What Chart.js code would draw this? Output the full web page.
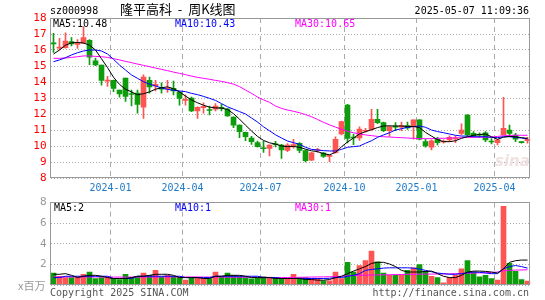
<!DOCTYPE html>
<html>
<head>
<meta charset="utf-8">
<script src="https://cdn.jsdelivr.net/npm/chart.js@4/dist/chart.umd.min.js"></script>
<style>
body { margin: 0; background: #fff; width: 545px; height: 300px; overflow: hidden; position: relative; font-family: "DejaVu Sans Mono", monospace; }
canvas { position: absolute; left: 0; }
#main { top: 0; }
#vol { top: 192px; }
.t { position: absolute; white-space: nowrap; font-size: 10px; line-height: 10px; }
</style>
</head>
<body>
<canvas id="main" width="545" height="192" style="width:545px;height:192px"></canvas>
<canvas id="vol" width="545" height="108" style="width:545px;height:108px"></canvas>

<div class="t" style="left:50px;top:6px">sz000998</div>
<div class="t" style="left:120px;top:2px;font-family:'Noto Sans CJK SC';font-size:13px;line-height:13px;white-space:pre">隆平高科  -  周K线图</div>
<div class="t" style="right:16px;top:6px">2025-05-07 11:09:36</div>
<div class="t" style="left:53px;top:19px;color:#000">MA5:10.48</div>
<div class="t" style="left:175px;top:19px;color:#0000ff">MA10:10.43</div>
<div class="t" style="left:295px;top:19px;color:#ff00ff">MA30:10.65</div>
<div class="t" style="left:495px;top:152px;font:italic bold 15px 'DejaVu Sans';color:#f0e2e2">sina</div>
<div class="t" style="left:54px;top:203px;color:#000">MA5:2</div>
<div class="t" style="left:175px;top:203px;color:#0000ff">MA10:1</div>
<div class="t" style="left:295px;top:203px;color:#ff00ff">MA30:1</div>
<div class="t" style="left:18px;top:280px;color:#999;font-family:'Noto Sans CJK SC';font-size:11px;line-height:11px">x百万</div>
<div class="t" style="left:50px;top:288px;color:#555">Copyright 2025 SINA.COM</div>
<div class="t" style="right:16px;top:288px;color:#555">http://finance.sina.com.cn</div>

<script>
// weekly k-line, 000998
const weeks = ['2023-10-27','2023-11-03','2023-11-10','2023-11-17','2023-11-24','2023-12-01','2023-12-08','2023-12-15','2023-12-22','2023-12-29',
  '2024-01-05','2024-01-12','2024-01-19','2024-01-26','2024-02-02','2024-02-08','2024-02-23','2024-03-01','2024-03-08','2024-03-15',
  '2024-03-22','2024-03-29','2024-04-03','2024-04-12','2024-04-19','2024-04-26','2024-04-30','2024-05-10','2024-05-17','2024-05-24',
  '2024-05-31','2024-06-07','2024-06-14','2024-06-21','2024-06-28','2024-07-05','2024-07-12','2024-07-19','2024-07-26','2024-08-02',
  '2024-08-09','2024-08-16','2024-08-23','2024-08-30','2024-09-06','2024-09-13','2024-09-20','2024-09-27','2024-09-30','2024-10-11',
  '2024-10-18','2024-10-25','2024-11-01','2024-11-08','2024-11-15','2024-11-22','2024-11-29','2024-12-06','2024-12-13','2024-12-20',
  '2024-12-27','2025-01-03','2025-01-10','2025-01-17','2025-01-24','2025-01-27','2025-02-07','2025-02-14','2025-02-21','2025-02-28',
  '2025-03-07','2025-03-14','2025-03-21','2025-03-28','2025-04-03','2025-04-11','2025-04-18','2025-04-25','2025-04-30','2025-05-07'];

const open = [16.42,16.12,16.15,16.52,16.35,16.42,16.6,15.33,15.05,14.05,
  14.1,13.5,14.25,13.28,13.3,12.42,14.1,13.75,13.65,13.55,
  13.6,13.35,12.85,13.0,12.2,12.4,12.28,12.3,12.42,12.3,
  11.8,11.3,10.85,10.5,10.22,9.88,9.85,10.12,10.05,9.72,
  10.02,10.17,9.72,9.12,9.72,9.55,9.35,9.58,10.75,12.55,
  10.55,10.5,10.92,11.04,11.67,11.46,10.96,11.22,11.17,11.27,
  11.21,11.63,10.27,9.92,10.42,10.25,10.38,10.44,10.79,11.94,
  10.79,10.71,10.83,10.29,10.21,10.69,11.0,10.69,10.25,10.33];
const high = [17.04,16.73,17.07,16.77,16.65,17.47,16.65,15.5,15.05,14.35,
  14.12,13.5,14.25,13.5,13.5,14.45,14.3,14.1,13.95,14.1,
  14.05,13.4,13.2,13.05,12.45,12.7,12.5,12.65,12.6,12.35,
  11.82,11.32,10.87,10.6,10.3,10.3,10.08,10.29,10.1,10.15,
  10.42,10.22,9.75,9.6,9.85,9.6,9.45,10.58,11.55,12.6,
  10.75,11.2,11.1,12.29,12.29,11.5,11.25,11.46,11.5,11.5,
  11.63,11.65,10.42,10.38,10.54,10.38,10.63,10.63,11.38,11.96,
  10.9,10.83,10.9,10.46,10.42,13.04,11.31,10.79,10.29,10.54];
const low = [15.85,16.0,16.12,16.25,16.1,16.4,15.08,15.02,13.8,13.73,
  13.4,13.05,12.78,12.5,12.05,11.73,13.3,13.45,13.3,13.35,
  13.2,12.55,12.55,12.15,11.72,12.05,11.95,12.2,12.2,11.85,
  11.15,10.52,10.33,10.1,9.92,9.6,9.38,9.94,9.23,9.65,
  9.86,9.58,9.0,9.08,9.6,9.28,9.02,9.55,10.7,10.2,
  10.08,10.35,10.85,10.98,11.4,10.9,10.6,10.96,10.96,11.04,
  10.42,10.38,9.92,9.75,10.06,10.17,10.27,10.21,10.69,10.63,
  10.58,10.54,10.27,10.13,10.06,10.69,10.58,10.27,10.17,10.17];
const close = [16.38,16.17,16.55,16.38,16.39,16.78,15.55,15.07,14.1,14.1,
  13.6,13.25,13.1,13.22,12.6,14.3,13.7,13.85,13.55,13.62,
  13.45,12.98,12.9,12.2,12.42,12.48,12.22,12.5,12.35,11.88,
  11.3,10.9,10.58,10.27,9.96,9.83,10.05,10.08,9.75,10.05,
  10.08,9.72,9.08,9.58,9.78,9.35,9.4,10.42,11.52,10.48,
  10.5,11.05,10.98,11.67,11.46,10.96,11.2,11.18,11.27,11.13,
  11.63,10.42,10.0,10.33,10.21,10.29,10.54,10.5,11.0,10.69,
  10.63,10.67,10.38,10.25,10.38,11.1,10.79,10.42,10.21,10.42];

const ma5 = [15.75,16.0,16.3,16.45,16.47,16.44,16.3,16.0,15.45,14.9,
  14.3,13.85,13.55,13.38,13.2,13.27,13.38,13.55,13.64,13.7,
  13.58,13.38,13.12,12.88,12.7,12.55,12.43,12.38,12.37,12.28,
  12.02,11.68,11.3,10.94,10.6,10.35,10.2,10.12,10.0,9.96,
  9.97,9.92,9.8,9.7,9.65,9.52,9.45,9.6,9.95,10.25,
  10.5,10.75,10.9,11.02,11.15,11.25,11.26,11.25,11.25,11.22,
  11.22,11.15,10.85,10.62,10.4,10.27,10.27,10.33,10.48,10.58,
  10.67,10.72,10.75,10.58,10.42,10.55,10.6,10.58,10.52,10.48];
const ma10 = [15.27,15.38,15.52,15.69,15.83,15.94,16.0,16.0,15.94,15.75,
  15.42,15.06,14.75,14.44,14.23,14.02,13.87,13.75,13.63,13.54,
  13.48,13.44,13.4,13.29,13.21,13.1,12.98,12.85,12.65,12.45,
  12.3,12.15,12.0,11.75,11.5,11.2,10.95,10.7,10.5,10.31,
  10.21,10.1,9.92,9.79,9.75,9.71,9.69,9.69,9.79,9.92,
  9.96,10.0,10.17,10.33,10.54,10.69,10.83,11.0,11.08,11.17,
  11.21,11.25,11.17,11.0,10.9,10.83,10.75,10.67,10.62,10.62,
  10.58,10.58,10.58,10.54,10.52,10.58,10.58,10.54,10.5,10.45];
const ma30 = [15.48,15.48,15.5,15.54,15.58,15.63,15.63,15.6,15.58,15.54,
  15.46,15.38,15.29,15.21,15.12,15.04,14.96,14.87,14.79,14.71,
  14.62,14.54,14.46,14.37,14.29,14.23,14.17,14.1,14.04,13.96,
  13.87,13.71,13.5,13.29,13.06,12.88,12.73,12.5,12.35,12.25,
  12.17,12.08,11.96,11.83,11.66,11.48,11.32,11.18,11.04,10.92,
  10.83,10.75,10.69,10.65,10.6,10.58,10.56,10.54,10.52,10.5,
  10.48,10.46,10.46,10.46,10.48,10.48,10.5,10.51,10.52,10.54,
  10.54,10.55,10.55,10.56,10.6,10.64,10.66,10.67,10.67,10.67];

// volume, x百万
const vol = [1.16,0.85,0.72,0.72,0.72,1.04,1.26,0.63,0.72,0.72,
  0.63,0.53,1.04,0.72,0.85,1.16,0.94,1.42,0.79,0.94,
  0.85,0.72,0.47,0.72,0.72,0.63,0.63,1.26,0.85,1.16,
  0.94,0.85,0.72,0.6,0.72,0.79,0.72,0.72,0.63,0.63,
  1.04,0.72,0.72,0.63,0.63,0.41,0.41,1.26,0.63,2.2,
  1.26,1.89,2.36,3.3,2.26,1.16,0.94,0.94,0.94,1.42,
  1.67,1.98,1.32,0.85,0.72,0.22,0.72,0.94,1.57,2.36,
  1.26,0.79,0.94,0.63,0.47,7.64,2.1,1.32,0.53,0.38];
const vma5 = [1.04,1.04,1.1,0.94,0.72,0.85,0.94,0.94,0.85,0.72,
  0.63,0.63,0.63,0.72,0.85,0.85,0.94,1.04,1.04,1.04,
  0.94,0.72,0.72,0.72,0.72,0.63,0.63,0.85,0.85,0.94,
  0.94,0.94,0.85,0.72,0.72,0.72,0.72,0.63,0.63,0.63,
  0.63,0.63,0.53,0.53,0.47,0.47,0.53,0.72,0.85,1.1,
  1.35,1.57,1.79,2.1,2.2,2.2,2.04,1.79,1.42,1.26,
  1.26,1.26,1.32,1.35,1.1,0.85,0.72,0.72,0.94,1.26,
  1.35,1.35,1.32,1.26,1.16,1.57,2.2,2.36,2.42,2.42];
const vma10 = [0.72,0.72,0.85,0.85,0.85,0.85,0.85,0.85,0.85,0.85,
  0.63,0.63,0.63,0.63,0.85,0.85,0.85,0.85,0.85,0.85,
  0.85,0.85,0.72,0.72,0.72,0.72,0.72,0.85,0.85,0.85,
  0.85,0.85,0.85,0.85,0.85,0.72,0.72,0.72,0.63,0.63,
  0.63,0.63,0.63,0.63,0.63,0.63,0.65,0.72,0.72,0.85,
  0.94,1.1,1.42,1.51,1.57,1.64,1.67,1.67,1.67,1.67,
  1.64,1.54,1.42,1.29,1.16,1.1,1.04,1.04,1.1,1.2,
  1.26,1.23,1.16,1.1,1.1,1.57,1.79,1.89,1.79,1.64];
const vma30 = [0.78,0.78,0.78,0.78,0.78,0.78,0.78,0.78,0.78,0.78,
  0.77,0.77,0.77,0.77,0.77,0.77,0.77,0.77,0.78,0.78,
  0.78,0.78,0.78,0.78,0.78,0.77,0.77,0.77,0.77,0.76,
  0.76,0.76,0.76,0.76,0.75,0.75,0.74,0.73,0.72,0.73,
  0.74,0.75,0.76,0.77,0.78,0.79,0.8,0.82,0.84,0.9,
  0.92,0.94,0.96,0.97,0.98,0.99,1.0,1.01,1.02,1.03,
  1.04,1.05,1.06,1.06,1.07,1.07,1.08,1.1,1.12,1.14,
  1.16,1.18,1.2,1.22,1.26,1.38,1.42,1.45,1.46,1.48];

const RED = '#ff5454';
const GREEN = '#0c9c0c';
const candleColor = close.map((c, i) => c >= open[i] ? RED : GREEN);

Chart.defaults.font.family = 'DejaVu Sans Mono';
Chart.defaults.font.size = 10;

// month gridline on the first week of Jan/Apr/Jul/Oct
function isQuarterStart(i) {
  if (!(i > 0 && i < weeks.length)) return false;
  const m = weeks[i].slice(5, 7);
  return m !== weeks[i - 1].slice(5, 7) && ['01', '04', '07', '10'].includes(m);
}

const frame = {
  id: 'frame',
  afterDraw(chart) {
    const { ctx, chartArea: a } = chart;
    ctx.save();
    ctx.strokeStyle = '#999';
    ctx.lineWidth = 1;
    const l = Math.floor(a.left) + 0.5, t = Math.floor(a.top) + 0.5;
    const r = Math.floor(a.right) - 0.5, b = Math.floor(a.bottom) - 0.5;
    ctx.strokeRect(l, t, r - l, b - t);
    ctx.restore();
  }
};

function maLine(data, color) {
  return { type: 'line', data: data, borderColor: color, borderWidth: 1, pointRadius: 0, tension: 0, order: 0 };
}

function xScale(showLabels, h) {
  return {
    type: 'category',
    offset: true,
    grid: {
      offset: true,
      drawTicks: false,
      lineWidth: 1,
      color: c => isQuarterStart(c.index) ? '#aaa' : 'rgba(0,0,0,0)',
      borderDash: [5, 4]
    },
    border: { display: false, dash: [5, 4] },
    ticks: {
      display: showLabels,
      autoSkip: false,
      maxRotation: 0,
      padding: 4,
      labelOffset: -3,
      color: '#1e7ac8',
      font: { size: 10 },
      callback: (v, i) => isQuarterStart(i) ? weeks[i].slice(0, 7) : ''
    },
    afterFit: s => { s.height = h; }
  };
}

new Chart(document.getElementById('main'), {
  type: 'bar',
  data: {
    labels: weeks,
    datasets: [
      maLine(ma5, '#000000'),
      maLine(ma10, '#0000ff'),
      maLine(ma30, '#ff00ff'),
      {
        type: 'bar',
        data: open.map((o, i) => [o, close[i]]),
        backgroundColor: candleColor,
        barThickness: 5,
        minBarLength: 1,
        grouped: false,
        order: 1
      },
      {
        type: 'bar',
        data: low.map((l, i) => [l, high[i]]),
        backgroundColor: candleColor,
        barThickness: 1,
        grouped: false,
        order: 2
      }
    ]
  },
  options: {
    responsive: false,
    animation: false,
    layout: { padding: { top: 18, right: 14.5, left: 0.5, bottom: 0 } },
    plugins: { legend: { display: false }, tooltip: { enabled: false } },
    scales: {
      x: xScale(true, 14),
      y: {
        min: 8,
        max: 18,
        ticks: { stepSize: 1, autoSkip: false, color: '#f00', padding: 4, font: { size: 11 } },
        grid: { color: '#aaa', lineWidth: 1, drawTicks: false, borderDash: [1, 2] },
        border: { display: false, dash: [1, 2] },
        afterFit: s => { s.width = 50; }
      }
    }
  },
  plugins: [frame]
});

new Chart(document.getElementById('vol'), {
  type: 'bar',
  data: {
    labels: weeks,
    datasets: [
      maLine(vma5, '#000000'),
      maLine(vma10, '#0000ff'),
      maLine(vma30, '#ff00ff'),
      {
        type: 'bar',
        data: vol,
        backgroundColor: candleColor,
        barThickness: 5,
        order: 1
      }
    ]
  },
  options: {
    responsive: false,
    animation: false,
    layout: { padding: { top: 9, right: 14.5, left: 0.5, bottom: 0 } },
    plugins: { legend: { display: false }, tooltip: { enabled: false } },
    scales: {
      x: xScale(false, 15),
      y: {
        min: 0,
        max: 8,
        ticks: { stepSize: 2, autoSkip: false, color: '#999', padding: 4, font: { size: 11 }, callback: v => v === 0 ? '' : v },
        grid: { color: '#aaa', lineWidth: 1, drawTicks: false, borderDash: [1, 2] },
        border: { display: false, dash: [1, 2] },
        afterFit: s => { s.width = 50; }
      }
    }
  },
  plugins: [frame]
});
</script>
</body>
</html>
